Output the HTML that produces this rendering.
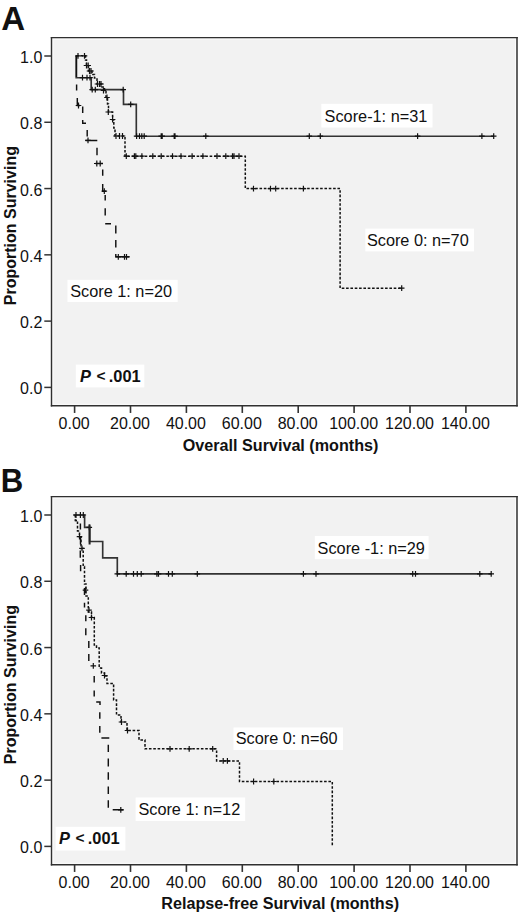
<!DOCTYPE html>
<html><head><meta charset="utf-8"><title>Kaplan-Meier survival curves</title>
<style>
html,body{margin:0;padding:0;background:#fff;}
body{width:520px;height:915px;overflow:hidden;}
svg{display:block;}
text{font-family:"Liberation Sans", sans-serif;fill:#111;}
</style></head>
<body>
<svg width="520" height="915" viewBox="0 0 520 915">
<rect x="51.5" y="37.6" width="465.5" height="368.15" fill="#f2f2f2" stroke="none"/>
<rect x="53.0" y="39.1" width="462.5" height="365.15" fill="none" stroke="#fbfbfb" stroke-width="1"/>
<line x1="51.5" y1="36.9" x2="51.5" y2="406.55" stroke="#303030" stroke-width="1.4"/>
<line x1="517.0" y1="36.9" x2="517.0" y2="406.55" stroke="#303030" stroke-width="1.5"/>
<line x1="50.8" y1="37.6" x2="517.75" y2="37.6" stroke="#303030" stroke-width="1.4"/>
<line x1="50.8" y1="405.75" x2="517.75" y2="405.75" stroke="#303030" stroke-width="1.6"/>
<line x1="44.3" y1="56.00" x2="51.5" y2="56.00" stroke="#333" stroke-width="1.5"/>
<text transform="translate(42.3 63.00) scale(0.92 1)" text-anchor="end" font-size="17.4">1.0</text>
<line x1="44.3" y1="122.28" x2="51.5" y2="122.28" stroke="#333" stroke-width="1.5"/>
<text transform="translate(42.3 129.28) scale(0.92 1)" text-anchor="end" font-size="17.4">0.8</text>
<line x1="44.3" y1="188.56" x2="51.5" y2="188.56" stroke="#333" stroke-width="1.5"/>
<text transform="translate(42.3 195.56) scale(0.92 1)" text-anchor="end" font-size="17.4">0.6</text>
<line x1="44.3" y1="254.84" x2="51.5" y2="254.84" stroke="#333" stroke-width="1.5"/>
<text transform="translate(42.3 261.84) scale(0.92 1)" text-anchor="end" font-size="17.4">0.4</text>
<line x1="44.3" y1="321.12" x2="51.5" y2="321.12" stroke="#333" stroke-width="1.5"/>
<text transform="translate(42.3 328.12) scale(0.92 1)" text-anchor="end" font-size="17.4">0.2</text>
<line x1="44.3" y1="387.40" x2="51.5" y2="387.40" stroke="#333" stroke-width="1.5"/>
<text transform="translate(42.3 394.40) scale(0.92 1)" text-anchor="end" font-size="17.4">0.0</text>
<line x1="74.60" y1="405.75" x2="74.60" y2="412.95" stroke="#333" stroke-width="1.6"/>
<text transform="translate(74.10 428.80) scale(0.92 1)" text-anchor="middle" font-size="17.4">0.00</text>
<line x1="130.50" y1="405.75" x2="130.50" y2="412.95" stroke="#333" stroke-width="1.6"/>
<text transform="translate(130.00 428.80) scale(0.92 1)" text-anchor="middle" font-size="17.4">20.00</text>
<line x1="186.40" y1="405.75" x2="186.40" y2="412.95" stroke="#333" stroke-width="1.6"/>
<text transform="translate(185.90 428.80) scale(0.92 1)" text-anchor="middle" font-size="17.4">40.00</text>
<line x1="242.30" y1="405.75" x2="242.30" y2="412.95" stroke="#333" stroke-width="1.6"/>
<text transform="translate(241.80 428.80) scale(0.92 1)" text-anchor="middle" font-size="17.4">60.00</text>
<line x1="298.20" y1="405.75" x2="298.20" y2="412.95" stroke="#333" stroke-width="1.6"/>
<text transform="translate(297.70 428.80) scale(0.92 1)" text-anchor="middle" font-size="17.4">80.00</text>
<line x1="354.10" y1="405.75" x2="354.10" y2="412.95" stroke="#333" stroke-width="1.6"/>
<text transform="translate(353.60 428.80) scale(0.92 1)" text-anchor="middle" font-size="17.4">100.00</text>
<line x1="410.00" y1="405.75" x2="410.00" y2="412.95" stroke="#333" stroke-width="1.6"/>
<text transform="translate(409.50 428.80) scale(0.92 1)" text-anchor="middle" font-size="17.4">120.00</text>
<line x1="465.90" y1="405.75" x2="465.90" y2="412.95" stroke="#333" stroke-width="1.6"/>
<text transform="translate(465.40 428.80) scale(0.92 1)" text-anchor="middle" font-size="17.4">140.00</text>
<text x="280.6" y="451.00" text-anchor="middle" font-size="16.15" font-weight="bold">Overall Survival (months)</text>
<text transform="translate(15.6 225.60) rotate(-90)" text-anchor="middle" font-size="16" font-weight="bold">Proportion Surviving</text>
<rect x="51.5" y="496.6" width="465.5" height="368.15" fill="#f2f2f2" stroke="none"/>
<rect x="53.0" y="498.1" width="462.5" height="365.15" fill="none" stroke="#fbfbfb" stroke-width="1"/>
<line x1="51.5" y1="495.90000000000003" x2="51.5" y2="865.55" stroke="#303030" stroke-width="1.4"/>
<line x1="517.0" y1="495.90000000000003" x2="517.0" y2="865.55" stroke="#303030" stroke-width="1.5"/>
<line x1="50.8" y1="496.6" x2="517.75" y2="496.6" stroke="#303030" stroke-width="1.4"/>
<line x1="50.8" y1="864.75" x2="517.75" y2="864.75" stroke="#303030" stroke-width="1.6"/>
<line x1="44.3" y1="515.00" x2="51.5" y2="515.00" stroke="#333" stroke-width="1.5"/>
<text transform="translate(42.3 522.00) scale(0.92 1)" text-anchor="end" font-size="17.4">1.0</text>
<line x1="44.3" y1="581.28" x2="51.5" y2="581.28" stroke="#333" stroke-width="1.5"/>
<text transform="translate(42.3 588.28) scale(0.92 1)" text-anchor="end" font-size="17.4">0.8</text>
<line x1="44.3" y1="647.56" x2="51.5" y2="647.56" stroke="#333" stroke-width="1.5"/>
<text transform="translate(42.3 654.56) scale(0.92 1)" text-anchor="end" font-size="17.4">0.6</text>
<line x1="44.3" y1="713.84" x2="51.5" y2="713.84" stroke="#333" stroke-width="1.5"/>
<text transform="translate(42.3 720.84) scale(0.92 1)" text-anchor="end" font-size="17.4">0.4</text>
<line x1="44.3" y1="780.12" x2="51.5" y2="780.12" stroke="#333" stroke-width="1.5"/>
<text transform="translate(42.3 787.12) scale(0.92 1)" text-anchor="end" font-size="17.4">0.2</text>
<line x1="44.3" y1="846.40" x2="51.5" y2="846.40" stroke="#333" stroke-width="1.5"/>
<text transform="translate(42.3 853.40) scale(0.92 1)" text-anchor="end" font-size="17.4">0.0</text>
<line x1="74.60" y1="864.75" x2="74.60" y2="871.95" stroke="#333" stroke-width="1.6"/>
<text transform="translate(74.10 887.80) scale(0.92 1)" text-anchor="middle" font-size="17.4">0.00</text>
<line x1="130.50" y1="864.75" x2="130.50" y2="871.95" stroke="#333" stroke-width="1.6"/>
<text transform="translate(130.00 887.80) scale(0.92 1)" text-anchor="middle" font-size="17.4">20.00</text>
<line x1="186.40" y1="864.75" x2="186.40" y2="871.95" stroke="#333" stroke-width="1.6"/>
<text transform="translate(185.90 887.80) scale(0.92 1)" text-anchor="middle" font-size="17.4">40.00</text>
<line x1="242.30" y1="864.75" x2="242.30" y2="871.95" stroke="#333" stroke-width="1.6"/>
<text transform="translate(241.80 887.80) scale(0.92 1)" text-anchor="middle" font-size="17.4">60.00</text>
<line x1="298.20" y1="864.75" x2="298.20" y2="871.95" stroke="#333" stroke-width="1.6"/>
<text transform="translate(297.70 887.80) scale(0.92 1)" text-anchor="middle" font-size="17.4">80.00</text>
<line x1="354.10" y1="864.75" x2="354.10" y2="871.95" stroke="#333" stroke-width="1.6"/>
<text transform="translate(353.60 887.80) scale(0.92 1)" text-anchor="middle" font-size="17.4">100.00</text>
<line x1="410.00" y1="864.75" x2="410.00" y2="871.95" stroke="#333" stroke-width="1.6"/>
<text transform="translate(409.50 887.80) scale(0.92 1)" text-anchor="middle" font-size="17.4">120.00</text>
<line x1="465.90" y1="864.75" x2="465.90" y2="871.95" stroke="#333" stroke-width="1.6"/>
<text transform="translate(465.40 887.80) scale(0.92 1)" text-anchor="middle" font-size="17.4">140.00</text>
<text x="280.2" y="909.40" text-anchor="middle" font-size="16.15" font-weight="bold">Relapse-free Survival (months)</text>
<text transform="translate(15.6 684.60) rotate(-90)" text-anchor="middle" font-size="16" font-weight="bold">Proportion Surviving</text>
<text x="1.3" y="30.2" font-size="33" font-weight="bold">A</text>
<text transform="translate(0.8 491.7) scale(0.93 1)" font-size="33.5" font-weight="bold">B</text>
<path d="M76.2,55.8 V77.7 H91.2 V89.6 H123.5 V104.3 H136.3 V136.2 H493.7" transform="translate(0 0.0)" fill="none" stroke="#333" stroke-width="1.65"/>
<path d="M82.5,74.8V80.6M79.7,77.7H85.3 M87.0,74.8V80.6M84.2,77.7H89.8 M90.0,74.8V80.6M87.2,77.7H92.8 M92.2,86.7V92.5M89.4,89.6H95.0 M95.3,86.7V92.5M92.5,89.6H98.1 M123.2,86.7V92.5M120.4,89.6H126.0 M130.7,101.4V107.2M127.9,104.3H133.5 M136.6,133.3V139.1M133.8,136.2H139.4 M139.5,133.3V139.1M136.7,136.2H142.3 M141.8,133.3V139.1M139.0,136.2H144.6 M144.2,133.3V139.1M141.4,136.2H147.0 M161.2,133.3V139.1M158.4,136.2H164.0 M162.2,133.3V139.1M159.4,136.2H165.0 M174.2,133.3V139.1M171.4,136.2H177.0 M175.0,133.3V139.1M172.2,136.2H177.8 M205.8,133.3V139.1M203.0,136.2H208.6 M309.3,133.3V139.1M306.5,136.2H312.1 M320.3,133.3V139.1M317.5,136.2H323.1 M417.6,133.3V139.1M414.8,136.2H420.4 M481.9,133.3V139.1M479.1,136.2H484.7 M493.7,133.3V139.1M490.9,136.2H496.5" fill="none" stroke="#111" stroke-width="1.2"/>
<path d="M76.2,55.8 H85.5 V60 H86.5 V66 H88.5 V71 H92 V74.5 H94.5 V78 H97 V84 H102 V87 H104.5 V90.5 H106 V97 H107.5 V104 H108.5 V112 H112.6 V120 H113.8 V128 H115 V136 H125 V156.2 H245.3 V188.6 H340.1 V288.2 H401.7" transform="translate(0 0.0)" fill="none" stroke="#111" stroke-width="1.5" stroke-dasharray="2.6 1.73"/>
<path d="M78.0,52.9V58.7M75.2,55.8H80.8 M84.5,52.9V58.7M81.7,55.8H87.3 M86.5,62.6V68.4M83.7,65.5H89.3 M88.2,62.6V68.4M85.4,65.5H91.0 M89.5,68.1V73.9M86.7,71.0H92.3 M91.0,68.1V73.9M88.2,71.0H93.8 M97.5,81.1V86.9M94.7,84.0H100.3 M99.5,81.1V86.9M96.7,84.0H102.3 M101.0,81.1V86.9M98.2,84.0H103.8 M103.5,87.6V93.4M100.7,90.5H106.3 M107.0,94.6V100.4M104.2,97.5H109.8 M108.3,109.1V114.9M105.5,112.0H111.1 M112.6,116.6V122.4M109.8,119.5H115.4 M116.0,133.1V138.9M113.2,136.0H118.8 M119.5,133.1V138.9M116.7,136.0H122.3 M122.5,133.1V138.9M119.7,136.0H125.3 M126.3,153.3V159.1M123.5,156.2H129.1 M134.4,153.3V159.1M131.6,156.2H137.2 M135.8,153.3V159.1M133.0,156.2H138.6 M141.9,153.3V159.1M139.1,156.2H144.7 M152.8,153.3V159.1M149.9,156.2H155.6 M161.2,153.3V159.1M158.4,156.2H164.1 M172.5,153.3V159.1M169.7,156.2H175.3 M181.0,153.3V159.1M178.2,156.2H183.8 M192.1,153.3V159.1M189.3,156.2H194.9 M202.9,153.3V159.1M200.1,156.2H205.7 M217.0,153.3V159.1M214.2,156.2H219.8 M225.8,153.3V159.1M223.0,156.2H228.6 M232.5,153.3V159.1M229.7,156.2H235.3 M234.0,153.3V159.1M231.2,156.2H236.8 M239.0,153.3V159.1M236.2,156.2H241.8 M253.5,185.7V191.5M250.7,188.6H256.3 M270.5,185.7V191.5M267.7,188.6H273.3 M275.7,185.7V191.5M272.9,188.6H278.5 M303.4,185.7V191.5M300.6,188.6H306.2 M401.7,285.3V291.1M398.9,288.2H404.5" fill="none" stroke="#111" stroke-width="1.2"/>
<path d="M76.5,55.8 V77 M76.6,84.5 V90.5 M77.3,98 V105.5 H80 M82.7,106.5 V113 M82.7,120 V123.2 H86 M87.2,130 V136.5 M85.5,140.4 H97.3 M97,147.8 V155.2 M95.5,163.5 H103 M102.7,169.4 V175.8 M102.7,184 V191.2 H106 M105.2,195 V200.4 M105.2,208.3 V215.6 M105.2,223.7 H111 M115.8,225.5 V233.6 M115.8,240 V247.4 M115.8,254 V256.8 H129.6" transform="translate(0 0.0)" fill="none" stroke="#111" stroke-width="1.45"/>
<path d="M78.5,102.6V108.4M75.7,105.5H81.3 M88.0,137.5V143.3M85.2,140.4H90.8 M96.8,160.6V166.4M94.0,163.5H99.6 M100.2,160.6V166.4M97.4,163.5H103.0 M104.3,188.3V194.1M101.5,191.2H107.1 M118.3,253.9V259.7M115.5,256.8H121.1 M124.5,253.9V259.7M121.7,256.8H127.3 M126.5,253.9V259.7M123.7,256.8H129.3" fill="none" stroke="#111" stroke-width="1.2"/>
<path d="M73.5,515 H84.6 V527.3 H89.6 V541.5 H102.7 V557.8 H117.3 V573.9 H491.5" transform="translate(0 0.0)" fill="none" stroke="#333" stroke-width="1.65"/>
<path d="M76.0,512.1V517.9M73.2,515.0H78.8 M80.4,512.1V517.9M77.6,515.0H83.2 M83.3,512.1V517.9M80.5,515.0H86.1 M89.3,524.4V530.2M86.5,527.3H92.1 M117.3,571.0V576.8M114.5,573.9H120.1 M126.2,571.0V576.8M123.4,573.9H129.0 M133.5,571.0V576.8M130.7,573.9H136.3 M137.3,571.0V576.8M134.5,573.9H140.1 M141.2,571.0V576.8M138.4,573.9H144.0 M156.9,571.0V576.8M154.1,573.9H159.7 M158.5,571.0V576.8M155.7,573.9H161.3 M168.5,571.0V576.8M165.7,573.9H171.3 M172.3,571.0V576.8M169.5,573.9H175.1 M197.3,571.0V576.8M194.5,573.9H200.1 M303.4,571.0V576.8M300.6,573.9H306.2 M316.0,571.0V576.8M313.2,573.9H318.8 M412.7,571.0V576.8M409.9,573.9H415.5 M415.5,571.0V576.8M412.7,573.9H418.3 M479.8,571.0V576.8M477.0,573.9H482.6 M491.2,571.0V576.8M488.4,573.9H494.0" fill="none" stroke="#111" stroke-width="1.2"/>
<path d="M89.6,524.5 V544.5" transform="translate(0 0.0)" fill="none" stroke="#222" stroke-width="2.0"/>
<path d="M75.3,515 V520.4 H77.5 V531 H79.5 V537 H81 V548.4 H83.2 V566.5 H84.5 V584 H86 V596 H88.3 V612 H91.5 V617.5 H94.3 V645 H96.5 V648 H99.2 V668 H101.5 V673 H104.5 V676 H107 V683.5 H113.6 V700 H116.5 V715 H121 V722 H127 V730.5 H139 V740 H145 V748.8 H216.6 V760.9 H239.5 V781.5 H332.3 V846.8" transform="translate(0 0.0)" fill="none" stroke="#111" stroke-width="1.5" stroke-dasharray="2.6 1.73"/>
<path d="M79.5,533.8V539.6M76.7,536.7H82.3 M85.5,587.3V593.1M82.7,590.2H88.3 M89.0,607.3V613.1M86.2,610.2H91.8 M91.5,614.6V620.4M88.7,617.5H94.3 M104.5,672.6V678.4M101.7,675.5H107.3 M121.5,719.1V724.9M118.7,722.0H124.3 M127.5,727.6V733.4M124.7,730.5H130.3 M170.0,745.9V751.7M167.2,748.8H172.8 M189.2,745.9V751.7M186.4,748.8H192.0 M212.7,745.9V751.7M209.9,748.8H215.5 M223.2,758.0V763.8M220.4,760.9H226.0 M227.4,758.0V763.8M224.6,760.9H230.2 M253.6,778.6V784.4M250.8,781.5H256.4 M273.8,778.6V784.4M271.0,781.5H276.6" fill="none" stroke="#111" stroke-width="1.2"/>
<path d="M75.2,520.4 H77 M80.4,523.5 V529.6 M80.5,537 V544.5 M80.3,550.5 V557.7 M80.6,565 V571.2 M84.5,588 V595 M84.5,602.7 V607.4 M85.8,615.3 V621.3 M85.8,628.3 V635.3 M88.8,641 V648 M88.8,654 V661 M94.2,676 V682.5 M94.2,690.4 V696.6 M96.2,702 H100 V705 M99.8,712.3 V718.8 M99.8,726.1 V732.8 M101.4,737.9 H109.3 M108.3,744.7 V752.1 M108.3,758.5 V766.4 M108.3,772.3 V779.7 M108.3,786.5 V793.9 M108.3,800.3 V807.7 M112.7,809.8 H123.5" transform="translate(0 0.0)" fill="none" stroke="#111" stroke-width="1.45"/>
<path d="M82.0,545.5V551.3M79.2,548.4H84.8 M93.3,662.9V668.7M90.5,665.8H96.1 M120.8,806.9V812.7M118.0,809.8H123.6" fill="none" stroke="#111" stroke-width="1.2"/>
<rect x="321.3" y="103.8" width="111.19999999999999" height="23.700000000000003" fill="#ffffff"/>
<text x="324.6" y="121.6" font-size="16.3">Score-1: n=31</text>
<rect x="365.3" y="228.6" width="108.69999999999999" height="22.80000000000001" fill="#ffffff"/>
<text x="366.9" y="246.2" font-size="16.3">Score 0: n=70</text>
<rect x="67.5" y="279.8" width="110.19999999999999" height="22.19999999999999" fill="#ffffff"/>
<text x="70.2" y="296.7" font-size="16.3">Score 1: n=20</text>
<rect x="75.8" y="364.6" width="68.50000000000001" height="22.799999999999955" fill="#ffffff"/>
<text x="79.9" y="381.5" font-size="16.4" font-weight="bold" font-style="italic">P</text>
<text x="96.6" y="380.8" font-size="15.5" font-weight="bold">&lt;</text>
<text x="108.8" y="381.5" font-size="16.4" font-weight="bold">.001</text>
<rect x="314.8" y="536.0" width="113.80000000000001" height="23.200000000000045" fill="#ffffff"/>
<text x="317.6" y="554.3" font-size="16.3">Score -1: n=29</text>
<rect x="233.5" y="727.5" width="109.5" height="22.5" fill="#ffffff"/>
<text x="235.7" y="744.4" font-size="16.3">Score 0: n=60</text>
<rect x="135.6" y="797.5" width="109.6" height="23.5" fill="#ffffff"/>
<text x="138.4" y="815.1" font-size="16.3">Score 1: n=12</text>
<rect x="55.6" y="826.8" width="69.80000000000001" height="23.700000000000045" fill="#ffffff"/>
<text x="58.9" y="844.0" font-size="16.4" font-weight="bold" font-style="italic">P</text>
<text x="75.6" y="843.3" font-size="15.5" font-weight="bold">&lt;</text>
<text x="87.8" y="844.0" font-size="16.4" font-weight="bold">.001</text>
</svg>
</body></html>
